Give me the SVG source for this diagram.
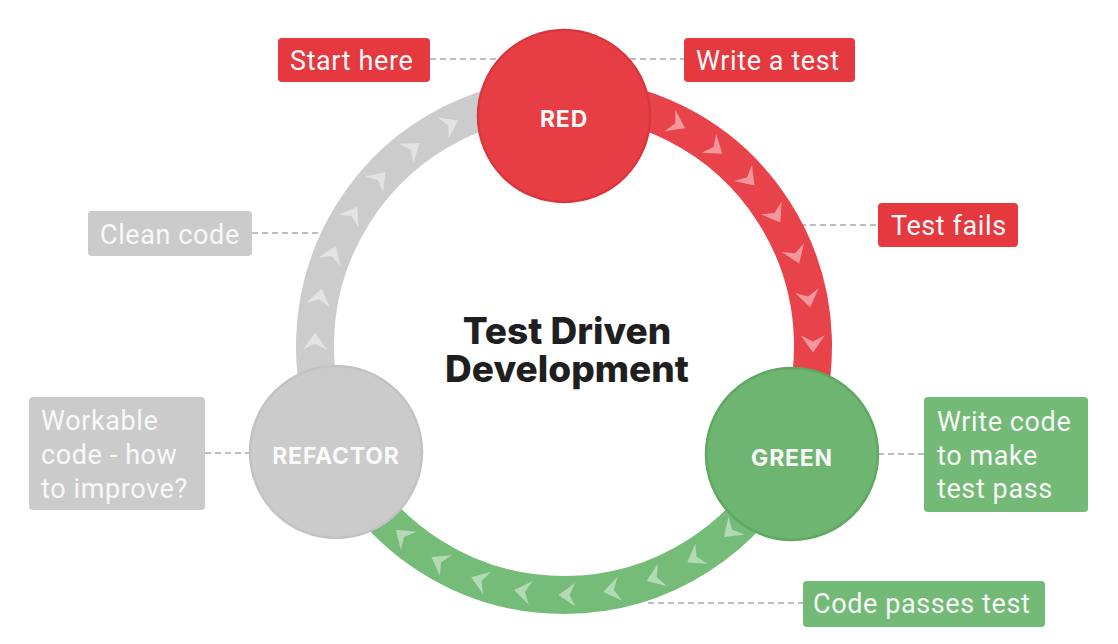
<svg xmlns="http://www.w3.org/2000/svg" xmlns:xlink="http://www.w3.org/1999/xlink" width="1118" height="644" viewBox="0 0 1118 644">
<style>
.lbl{font-family:Roboto,"Liberation Sans",sans-serif;font-size:27px;letter-spacing:0.6px;fill:#f8f8f8}
.node{font-family:Inter,"Liberation Sans",sans-serif;font-weight:700;font-size:23px;letter-spacing:0.8px;fill:#fafafa;text-anchor:middle}
.title{font-family:Inter,"Liberation Sans",sans-serif;font-weight:800;font-size:37px;fill:#1f1f1f;text-anchor:middle}
.dash{stroke:#a9a9a9;stroke-width:1.3;stroke-dasharray:6 4;fill:none}
.band{fill:none;stroke-width:38}
.chev{fill:#fff;fill-opacity:.45}
.boxR{fill:#e5393f}
.boxG{fill:#72ba75}
.boxY{fill:#cbcbcb}
</style>
<defs>
<path id="chev" d="M9 0 L-8 -12 L-2 0 L-8 12 Z"/>
</defs>
<rect width="1118" height="644" fill="#ffffff"/>
<g id="connectors">
<line class="dash" x1="430" y1="59" x2="684" y2="59"/>
<line class="dash" x1="800" y1="225" x2="878" y2="225"/>
<line class="dash" x1="252" y1="233" x2="322" y2="233"/>
<line class="dash" x1="205" y1="453" x2="250" y2="453"/>
<line class="dash" x1="878" y1="454" x2="924" y2="454"/>
<line class="dash" x1="648" y1="603" x2="803" y2="603"/>
</g>
<g id="ring">
<path class="band" stroke="#e8434a" d="M564 97 A249 249 0 0 1 789.7 451.2"/>
<path class="band" stroke="#74bc77" d="M789.7 451.2 A249 249 0 0 1 338.3 451.2"/>
<path class="band" stroke="#cccccc" d="M338.3 451.2 A249 249 0 0 1 564 97"/>
<g class="chev">
<use xlink:href="#chev" transform="translate(564 346) rotate(-63) translate(249 0) rotate(90)"/>
<use xlink:href="#chev" transform="translate(564 346) rotate(-52.6) translate(249 0) rotate(90)"/>
<use xlink:href="#chev" transform="translate(564 346) rotate(-42.2) translate(249 0) rotate(90)"/>
<use xlink:href="#chev" transform="translate(564 346) rotate(-31.8) translate(249 0) rotate(90)"/>
<use xlink:href="#chev" transform="translate(564 346) rotate(-21.4) translate(249 0) rotate(90)"/>
<use xlink:href="#chev" transform="translate(564 346) rotate(-11) translate(249 0) rotate(90)"/>
<use xlink:href="#chev" transform="translate(564 346) rotate(-0.6) translate(249 0) rotate(90)"/>
<use xlink:href="#chev" transform="translate(564 346) rotate(48) translate(249 0) rotate(90)"/>
<use xlink:href="#chev" transform="translate(564 346) rotate(58.3) translate(249 0) rotate(90)"/>
<use xlink:href="#chev" transform="translate(564 346) rotate(68.6) translate(249 0) rotate(90)"/>
<use xlink:href="#chev" transform="translate(564 346) rotate(78.9) translate(249 0) rotate(90)"/>
<use xlink:href="#chev" transform="translate(564 346) rotate(89.2) translate(249 0) rotate(90)"/>
<use xlink:href="#chev" transform="translate(564 346) rotate(99.5) translate(249 0) rotate(90)"/>
<use xlink:href="#chev" transform="translate(564 346) rotate(109.8) translate(249 0) rotate(90)"/>
<use xlink:href="#chev" transform="translate(564 346) rotate(120.1) translate(249 0) rotate(90)"/>
<use xlink:href="#chev" transform="translate(564 346) rotate(130.4) translate(249 0) rotate(90)"/>
<use xlink:href="#chev" transform="translate(564 346) rotate(181) translate(249 0) rotate(90)"/>
<use xlink:href="#chev" transform="translate(564 346) rotate(191.3) translate(249 0) rotate(90)"/>
<use xlink:href="#chev" transform="translate(564 346) rotate(201.6) translate(249 0) rotate(90)"/>
<use xlink:href="#chev" transform="translate(564 346) rotate(211.9) translate(249 0) rotate(90)"/>
<use xlink:href="#chev" transform="translate(564 346) rotate(222.2) translate(249 0) rotate(90)"/>
<use xlink:href="#chev" transform="translate(564 346) rotate(232.5) translate(249 0) rotate(90)"/>
<use xlink:href="#chev" transform="translate(564 346) rotate(242.8) translate(249 0) rotate(90)"/>
</g>
</g>
<g id="node-red">
<circle cx="564" cy="116" r="86" fill="#e73e45" stroke="#d9363d" stroke-width="2.5"/>
<text class="node" x="564" y="127">RED</text>
</g>
<g id="node-green">
<circle cx="792" cy="454" r="86" fill="#6db570" stroke="#5ea962" stroke-width="2.5"/>
<text class="node" x="792" y="466">GREEN</text>
</g>
<g id="node-refactor">
<circle cx="336" cy="452" r="86" fill="#cbcbcb" stroke="#c2c2c2" stroke-width="2.5"/>
<text class="node" x="336" y="464">REFACTOR</text>
</g>
<g id="title">
<text class="title" x="567" y="344">Test Driven</text>
<text class="title" x="567" y="382">Development</text>
</g>
<g id="label-start">
<rect class="boxR" x="278" y="38" width="152" height="44" rx="4"/>
<text class="lbl" x="290" y="70">Start here</text>
</g>
<g id="label-write-test">
<rect class="boxR" x="684" y="38" width="171" height="44" rx="4"/>
<text class="lbl" x="696" y="70">Write a test</text>
</g>
<g id="label-test-fails">
<rect class="boxR" x="878" y="203" width="140" height="44" rx="4"/>
<text class="lbl" x="891" y="235">Test fails</text>
</g>
<g id="label-clean">
<rect class="boxY" x="88" y="211" width="164" height="45" rx="4"/>
<text class="lbl" x="100" y="244">Clean code</text>
</g>
<g id="label-workable">
<rect class="boxY" x="29" y="397" width="176" height="113" rx="4"/>
<text class="lbl" x="41" y="430">Workable</text>
<text class="lbl" x="41" y="464">code - how</text>
<text class="lbl" x="41" y="498">to improve?</text>
</g>
<g id="label-write-code">
<rect class="boxG" x="924" y="397" width="164" height="115" rx="4"/>
<text class="lbl" x="937" y="431">Write code</text>
<text class="lbl" x="937" y="465">to make</text>
<text class="lbl" x="937" y="498">test pass</text>
</g>
<g id="label-passes">
<rect class="boxG" x="803" y="581" width="242" height="46" rx="4"/>
<text class="lbl" x="813" y="613">Code passes test</text>
</g>
</svg>
